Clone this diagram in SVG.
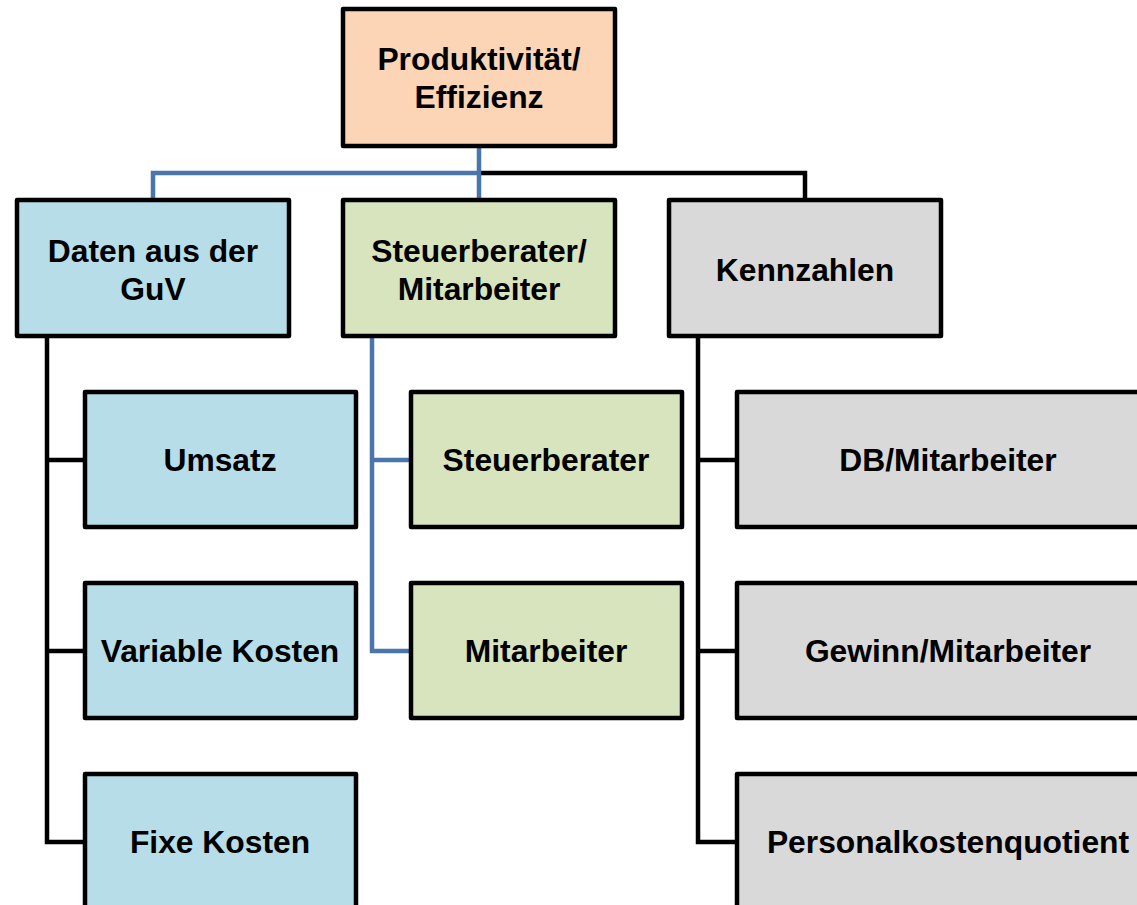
<svg xmlns="http://www.w3.org/2000/svg" width="1137" height="905" viewBox="0 0 1137 905">
  <style>
    .box { stroke: #000; stroke-width: 4.5; stroke-linejoin: round; }
    .peach { fill: #FBD5B5; }
    .blue { fill: #B7DDE8; }
    .green { fill: #D7E4BD; }
    .grey { fill: #D9D9D9; }
    .lbl { font-family: "Liberation Sans", Arial, sans-serif; font-weight: bold; font-size: 31.8px; fill: #000; text-anchor: middle; }
    .c-blk { fill: none; stroke: #000; stroke-width: 4.5; }
    .c-blu { fill: none; stroke: #4A76AC; stroke-width: 4.5; }
  </style>
  <rect width="1137" height="905" fill="#fff"/>

  <g id="connectors">
    <!-- root to first level -->
    <path class="c-blk" d="M479 173 H805 V200"/>
    <path class="c-blu" d="M479 146 V200 M479 173 H153 V200"/>
    <!-- Daten aus der GuV children -->
    <path class="c-blk" d="M85 460 H47 V336 M47 460 V842 H85 M47 651 H85"/>
    <!-- Steuerberater/Mitarbeiter children -->
    <path class="c-blu" d="M411 460 H372 V336 M372 460 V651 H411"/>
    <!-- Kennzahlen children -->
    <path class="c-blk" d="M737 460 H698 V336 M698 460 V842 H737 M698 651 H737"/>
  </g>

  <g id="root">
    <rect class="box peach" x="343" y="9" width="272" height="137"/>
    <text class="lbl" x="479" y="70">Produktivität/</text>
    <text class="lbl" x="479" y="108">Effizienz</text>
  </g>

  <g id="daten">
    <rect class="box blue" x="17" y="200" width="272" height="136"/>
    <text class="lbl" x="153" y="262">Daten aus der</text>
    <text class="lbl" x="153" y="300">GuV</text>
  </g>
  <g id="steuerberater-mitarbeiter">
    <rect class="box green" x="343" y="200" width="272" height="136"/>
    <text class="lbl" x="479" y="262">Steuerberater/</text>
    <text class="lbl" x="479" y="300">Mitarbeiter</text>
  </g>
  <g id="kennzahlen">
    <rect class="box grey" x="669" y="200" width="272" height="136"/>
    <text class="lbl" x="805" y="281">Kennzahlen</text>
  </g>

  <g id="umsatz">
    <rect class="box blue" x="85" y="392" width="271" height="135"/>
    <text class="lbl" x="220" y="471">Umsatz</text>
  </g>
  <g id="variable-kosten">
    <rect class="box blue" x="85" y="583" width="271" height="135"/>
    <text class="lbl" x="220" y="662">Variable Kosten</text>
  </g>
  <g id="fixe-kosten">
    <rect class="box blue" x="85" y="774" width="271" height="135"/>
    <text class="lbl" x="220" y="853">Fixe Kosten</text>
  </g>

  <g id="steuerberater">
    <rect class="box green" x="411" y="392" width="271" height="135"/>
    <text class="lbl" x="546" y="471">Steuerberater</text>
  </g>
  <g id="mitarbeiter">
    <rect class="box green" x="411" y="583" width="271" height="135"/>
    <text class="lbl" x="546" y="662">Mitarbeiter</text>
  </g>

  <g id="db-mitarbeiter">
    <rect class="box grey" x="737" y="392" width="423" height="135"/>
    <text class="lbl" x="948" y="471">DB/Mitarbeiter</text>
  </g>
  <g id="gewinn-mitarbeiter">
    <rect class="box grey" x="737" y="583" width="423" height="135"/>
    <text class="lbl" x="948" y="662">Gewinn/Mitarbeiter</text>
  </g>
  <g id="personalkostenquotient">
    <rect class="box grey" x="737" y="774" width="423" height="135"/>
    <text class="lbl" x="948" y="853">Personalkostenquotient</text>
  </g>
</svg>
